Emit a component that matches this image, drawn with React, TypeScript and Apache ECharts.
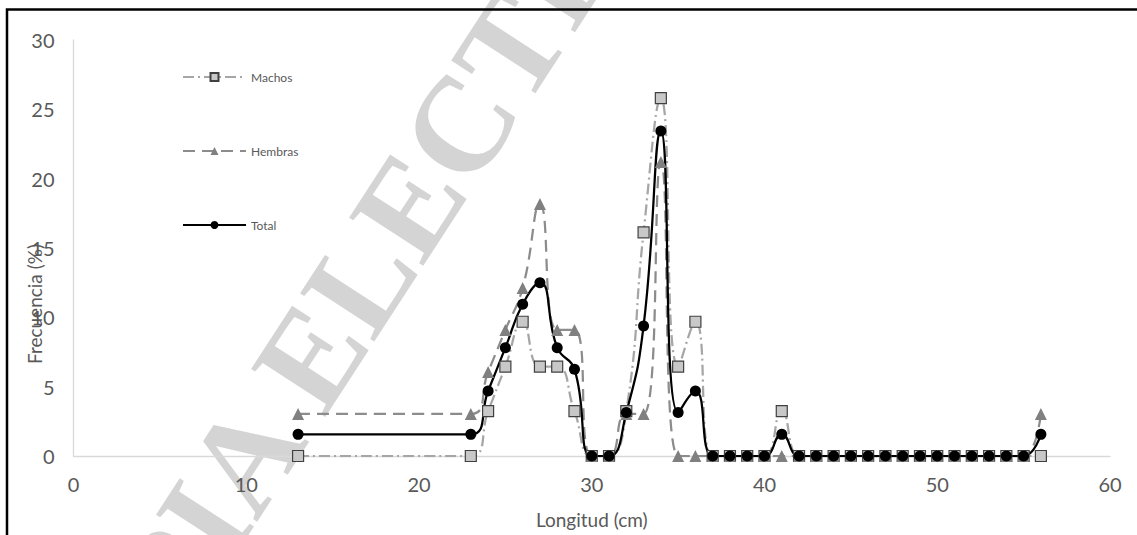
import React, { useEffect, useRef } from 'react';
import * as echarts from 'echarts';

const longitud = [13, 23, 24, 25, 26, 27, 28, 29, 30, 31, 32, 33, 34, 35, 36, 37, 38, 39, 40, 41, 42, 43, 44, 45, 46, 47, 48, 49, 50, 51, 52, 53, 54, 55, 56];
const machos = [0, 0, 3.23, 6.45, 9.68, 6.45, 6.45, 3.23, 0, 0, 3.23, 16.13, 25.81, 6.45, 9.68, 0, 0, 0, 0, 3.23, 0, 0, 0, 0, 0, 0, 0, 0, 0, 0, 0, 0, 0, 0, 0];
const hembras = [3.03, 3.03, 6.06, 9.09, 12.12, 18.18, 9.09, 9.09, 0, 0, 3.03, 3.03, 21.21, 0, 0, 0, 0, 0, 0, 0, 0, 0, 0, 0, 0, 0, 0, 0, 0, 0, 0, 0, 0, 0, 3.03];
const total = [1.56, 1.56, 4.69, 7.81, 10.94, 12.5, 7.81, 6.25, 0, 0, 3.13, 9.38, 23.44, 3.13, 4.69, 0, 0, 0, 0, 1.56, 0, 0, 0, 0, 0, 0, 0, 0, 0, 0, 0, 0, 0, 0, 1.56];

const seriesNames = ['Machos', 'Hembras', 'Total'];
const xTitle = 'Longitud (cm)';
const yTitle = 'Frecuencia (%)';
const watermark = 'COPIA ELECTRONICA';

const pairs = (vals: number[]) => longitud.map((x, i) => [x, vals[i]]);

export default function App() {
  const ref = useRef<HTMLDivElement>(null);
  useEffect(() => {
    const chart = echarts.init(ref.current!, null, { renderer: 'svg' });
    const font = 'Lato, "Noto Sans", sans-serif';
    chart.setOption({
      animation: false,
      backgroundColor: '#ffffff',
      grid: { left: 73.5, right: 27, top: 40, bottom: 79, containLabel: false },
      xAxis: {
        type: 'value',
        min: 0,
        max: 60,
        interval: 10,
        axisLine: { show: true, lineStyle: { color: '#D9D9D9', width: 1.3 } },
        axisTick: { show: false },
        splitLine: { show: false },
        axisLabel: { color: '#595959', fontSize: 20, fontFamily: font, margin: 18 },
        name: xTitle,
        nameLocation: 'middle',
        nameGap: 54,
        nameTextStyle: { color: '#595959', fontSize: 19, fontFamily: font },
      },
      yAxis: {
        type: 'value',
        min: 0,
        max: 30,
        interval: 5,
        axisLine: { show: true, lineStyle: { color: '#D9D9D9', width: 1.3 } },
        axisTick: { show: false },
        splitLine: { show: false },
        axisLabel: { color: '#595959', fontSize: 20, fontFamily: font, margin: 19 },
      },
      legend: {
        orient: 'vertical',
        left: 182,
        top: 71,
        padding: 0,
        itemWidth: 63,
        itemHeight: 10,
        itemGap: 62,
        textStyle: { fontSize: 12, color: '#595959', fontFamily: font, lineHeight: 10 },
        data: seriesNames,
      },
      graphic: [
        {
          type: 'text',
          z: -10,
          x: 434,
          y: 166,
          rotation: 0.995,
          silent: true,
          style: {
            text: watermark,
            fontSize: 135,
            fontWeight: 'bold',
            fontFamily: '"Liberation Serif", "DejaVu Serif", serif',
            fill: '#D4D4D4',
            align: 'center',
            verticalAlign: 'middle',
          },
        },
        {
          type: 'text',
          x: 34,
          y: 304,
          rotation: Math.PI / 2,
          style: {
            text: yTitle,
            fontSize: 19,
            fontFamily: font,
            fill: '#595959',
            align: 'center',
            verticalAlign: 'middle',
          },
        },
        {
          type: 'polyline',
          z: 100,
          shape: { points: [[7, 535], [7, 9.5], [1137, 9.5]] },
          style: { stroke: '#000000', lineWidth: 2.5, fill: 'none' },
        },
      ],
      series: [
        {
          name: seriesNames[0],
          type: 'line',
          smooth: true,
          data: pairs(machos),
          symbol: 'rect',
          symbolSize: 11,
          lineStyle: { color: '#A6A6A6', width: 2.25, type: [11, 4, 2, 4] },
          itemStyle: { color: '#C8C8C8', borderColor: '#404040', borderWidth: 1.2 },
        },
        {
          name: seriesNames[1],
          type: 'line',
          smooth: true,
          data: pairs(hembras),
          symbol: 'triangle',
          symbolSize: 12,
          lineStyle: { color: '#8C8C8C', width: 2.25, type: [12, 7] },
          itemStyle: { color: '#808080' },
        },
        {
          name: seriesNames[2],
          type: 'line',
          smooth: true,
          data: pairs(total),
          symbol: 'circle',
          symbolSize: 11,
          lineStyle: { color: '#000000', width: 2.25 },
          itemStyle: { color: '#000000' },
        },
      ],
    });
    return () => chart.dispose();
  }, []);
  return <div ref={ref} style={{ position: 'absolute', left: 0, top: 0, width: 1137, height: 535 }} />;
}
